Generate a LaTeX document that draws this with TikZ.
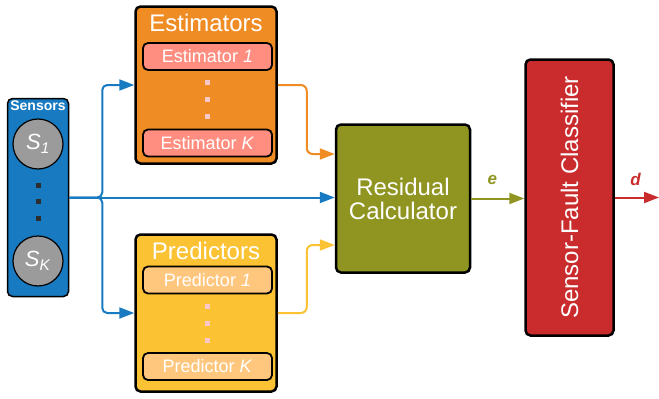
\documentclass[tikz,border=0pt]{standalone}
\usepackage{fontspec}
\setmainfont{Liberation Sans}
\usetikzlibrary{arrows.meta,positioning,calc}

\definecolor{sblue}{RGB}{24,122,192}
\definecolor{eorange}{RGB}{239,140,36}
\definecolor{esalmon}{RGB}{255,142,128}
\definecolor{pyellow}{RGB}{251,195,52}
\definecolor{ppeach}{RGB}{255,199,126}
\definecolor{rolive}{RGB}{143,149,32}
\definecolor{cred}{RGB}{202,44,46}
\definecolor{sgray}{RGB}{155,155,155}
\definecolor{dotpink}{RGB}{250,200,200}
\definecolor{dotdark}{RGB}{45,45,45}

\newcommand{\fs}[1]{\fontsize{#1}{#1}\selectfont}

\tikzset{
  bigbox/.style={draw=black, line width=2.5pt, rounded corners=5pt, text=white, inner sep=0pt},
  subbox/.style={draw=black, line width=1.8pt, rounded corners=5pt, text=white,
    minimum width=129pt, minimum height=27pt, inner sep=0pt, font=\fs{18}},
  sensorbub/.style={circle, draw=black, line width=1.2pt, fill=sgray, text=white,
    minimum size=50pt, inner sep=0pt, font=\fs{22}},
  dotsq/.style={rectangle, minimum size=5pt, inner sep=0pt},
  conn/.style={line width=2pt, -{Triangle[length=15pt,width=11pt]}},
  titletxt/.style={text=white, inner sep=0pt, font=\fs{24}},
  sig/.style={inner sep=0pt, font=\fs{17}\bfseries\itshape}
}

\begin{document}
\begin{tikzpicture}[x=1pt, y=-1pt]
\useasboundingbox (0,0) rectangle (659,399);

% Sensors column
\node[bigbox, line width=1.5pt, fill=sblue, minimum width=61pt, minimum height=198pt] (sens) at (38,197.5) {};
\node[text=white, inner sep=0pt, font=\fs{14}\bfseries] (senstitle) at (38,106) {Sensors};
\node[sensorbub] (s1) at (38,144) {\textit{S}\textsubscript{\textit{1}}};
\node[sensorbub] (sk) at (38,261) {\textit{S}\textsubscript{\textit{K}}};
\foreach \yy [count=\i] in {185,201.5,218}
  \node[dotsq, fill=dotdark] (sdot\i) at (38,\yy) {};

% Estimators bank
\node[bigbox, fill=eorange, minimum width=141pt, minimum height=157pt] (est) at (206,85) {};
\node[titletxt] (esttitle) at (206,23) {Estimators};
\node[subbox, fill=esalmon] (est1) at (207.5,56.5) {Estimator \textit{1}};
\node[subbox, fill=esalmon] (estk) at (207.5,143) {Estimator \textit{K}};
\foreach \yy [count=\i] in {82.5,99.5,116.5}
  \node[dotsq, fill=dotpink] (edot\i) at (207,\yy) {};

% Predictors bank
\node[bigbox, fill=pyellow, minimum width=141pt, minimum height=157pt] (pred) at (206,313) {};
\node[titletxt] (predtitle) at (206,251) {Predictors};
\node[subbox, fill=ppeach] (pred1) at (207.5,280) {Predictor \textit{1}};
\node[subbox, fill=ppeach] (predk) at (207.5,366.5) {Predictor \textit{K}};
\foreach \yy [count=\i] in {306.5,323.5,340.5}
  \node[dotsq, fill=dotpink] (pdot\i) at (207,\yy) {};

% Residual calculator
\node[bigbox, fill=rolive, minimum width=134pt, minimum height=148pt,
      align=center, font=\fs{24}, text=white] (res) at (403,198.5)
      {\fontsize{24}{30}\selectfont Residual\\Calculator};

% Classifier
\node[bigbox, fill=cred, minimum width=88pt, minimum height=276pt] (cls) at (569.5,197.5) {};
\node[text=white, inner sep=0pt, font=\fs{24}, rotate=90] (clstxt) at (cls.center) {Sensor-Fault Classifier};

% Connector end points
\coordinate (resinA) at (res.west |- 0,154);
\coordinate (resinB) at (res.west |- sens.east);
\coordinate (resinC) at (res.west |- 0,245);
\coordinate (out) at (659,197.5);

% Sensor signals fan out
\draw[conn, sblue] (sens.east) -- (resinB);
\draw[conn, sblue, rounded corners=5pt] (sens.east) -- ++(33,0) |- (est.west);
\draw[conn, sblue, rounded corners=5pt] (sens.east) -- ++(33,0) |- (pred.west);

% Estimates and predictions into the residual calculator
\draw[conn, eorange, rounded corners=6pt] (est.east) -- ++(29,0) |- (resinA);
\draw[conn, pyellow, rounded corners=6pt] (pred.east) -- ++(29,0) |- (resinC);

% Residual and decision
\draw[conn, rolive] (res.east) -- (res.east -| cls.west) node[sig, text=rolive, pos=0.4, above=13pt] (elab) {e};
\draw[conn, cred] (cls.east) -- (out) node[sig, text=cred, pos=0.47, above=11pt] (dlab) {d};
\end{tikzpicture}
\end{document}
